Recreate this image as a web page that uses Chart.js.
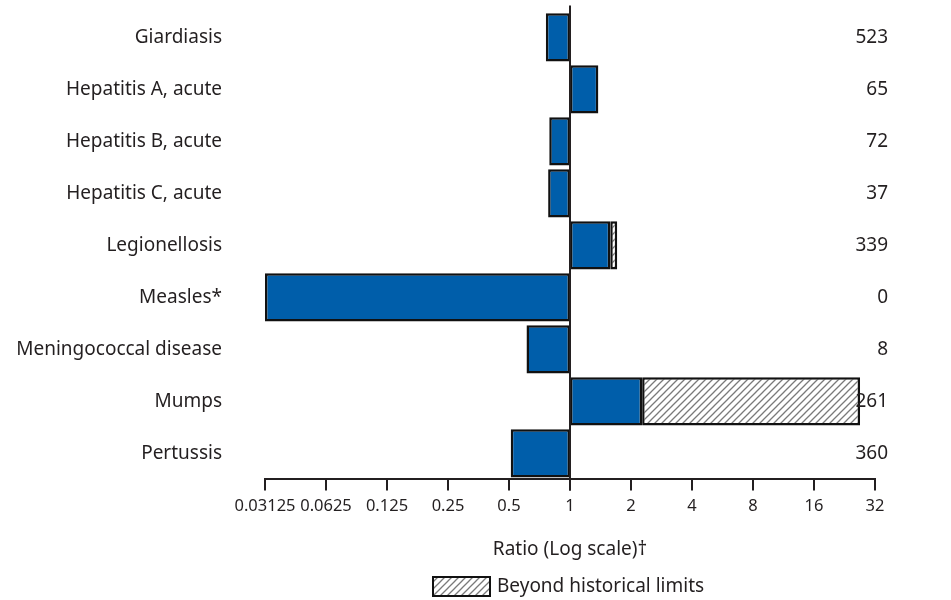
<!DOCTYPE html>
<html>
<head>
<meta charset="utf-8">
<script src="https://cdn.jsdelivr.net/npm/chart.js@4"></script>
<style>
  body { margin: 0; background: #fff; }
  #wrap { width: 951px; height: 600px; }
</style>
</head>
<body>
<div id="wrap"><canvas id="myChart"></canvas></div>
<script>
// diseases, ratio of current to historical, and current 4-week totals
const diseases = ['Giardiasis', 'Hepatitis A, acute', 'Hepatitis B, acute', 'Hepatitis C, acute',
  'Legionellosis', 'Measles*', 'Meningococcal disease', 'Mumps', 'Pertussis'];
const ratios = [0.76, 1.38, 0.79, 0.78, 1.58, 0.03125, 0.61, 2.27, 0.51];
const beyondLimits = [null, null, null, null, 1.71, null, null, 27, null];
const counts = [523, 65, 72, 37, 339, 0, 8, 261, 360];
const tickValues = [0.03125, 0.0625, 0.125, 0.25, 0.5, 1, 2, 4, 8, 16, 32];
const legendText = 'Beyond historical limits';

const textColor = '#231f20';
const fontFamily = "'Noto Sans', sans-serif";

// diagonal hatch fill
function makeHatch() {
    const c = document.createElement('canvas');
    c.width = 7; c.height = 7;
    const g = c.getContext('2d');
    g.fillStyle = '#fff';
    g.fillRect(0, 0, 7, 7);
    g.strokeStyle = '#7a7a7a';
    g.lineWidth = 1.3;
    g.beginPath();
    g.moveTo(-1, 8); g.lineTo(8, -1);
    g.moveTo(-1, 1); g.lineTo(1, -1);
    g.moveTo(6, 8); g.lineTo(8, 6);
    g.stroke();
    return g.createPattern(c, 'repeat');
}
const hatch = makeHatch();

// reference line at ratio 1, totals on the right, legend under the axis
const extras = {
    id: 'extras',
    afterDatasetsDraw(chart) {
        const ctx = chart.ctx;
        const x = chart.scales.x;
        const y = chart.scales.y;
        const px = x.getPixelForValue(1);
        ctx.save();
        ctx.strokeStyle = '#231f20';
        ctx.lineWidth = 2;
        ctx.beginPath();
        ctx.moveTo(px, chart.chartArea.top - 6);
        ctx.lineTo(px, chart.chartArea.bottom + 11);
        ctx.stroke();

        ctx.fillStyle = textColor;
        ctx.font = '19px ' + fontFamily;
        ctx.textAlign = 'right';
        ctx.textBaseline = 'middle';
        counts.forEach((n, i) => {
            ctx.fillText(String(n), 888, y.getPixelForValue(i));
        });

        // legend
        ctx.fillStyle = hatch;
        ctx.fillRect(433, 577, 57, 19);
        ctx.strokeStyle = '#111';
        ctx.lineWidth = 2;
        ctx.strokeRect(433, 577, 57, 19);
        ctx.fillStyle = textColor;
        ctx.textAlign = 'left';
        ctx.fillText(legendText, 497, 587);
        ctx.restore();
    }
};

const data = {
    labels: diseases,
    datasets: [{
        label: 'Ratio',
        data: ratios.map(r => [1, r]),
        backgroundColor: '#005eaa',
        borderColor: '#111',
        borderWidth: 2.5,
        borderSkipped: false,
        grouped: false,
        barPercentage: 0.93,
        categoryPercentage: 1
    },
    {
        label: legendText,
        data: beyondLimits.map((b, i) => b === null ? null : [ratios[i], b]),
        backgroundColor: hatch,
        borderColor: '#111',
        borderWidth: 2.5,
        borderSkipped: false,
        grouped: false,
        barPercentage: 0.93,
        categoryPercentage: 1
    }]
};

const config = {
    type: 'bar',
    data: data,
    options: {
        indexAxis: 'y',
        responsive: true,
        maintainAspectRatio: false,
        animation: false,
        layout: { padding: { left: 0, right: 76, top: 4, bottom: 35 } },
        plugins: {
            tooltip: { enabled: false },
            legend: { display: false }
        },
        scales: {
            x: {
                type: 'logarithmic',
                min: 0.03125,
                max: 32,
                afterBuildTicks: scale => {
                    scale.ticks = tickValues.map(v => ({ value: v }));
                },
                ticks: {
                    color: textColor,
                    font: { family: fontFamily, size: 16.5 },
                    padding: 6,
                    maxRotation: 0,
                    autoSkip: false,
                    callback: v => String(v)
                },
                grid: {
                    drawOnChartArea: false,
                    color: '#231f20',
                    lineWidth: 2,
                    tickLength: 11
                },
                border: { color: '#231f20', width: 2 },
                title: {
                    display: true,
                    text: 'Ratio (Log scale)\u2020',
                    color: textColor,
                    font: { family: fontFamily, size: 19 },
                    padding: { top: 16, bottom: 4 }
                }
            },
            y: {
                afterFit: scale => { scale.width = 265; },
                ticks: {
                    color: textColor,
                    font: { family: fontFamily, size: 19 },
                    padding: 0
                },
                grid: { display: false, drawTicks: true, tickLength: 43 },
                border: { display: false }
            }
        }
    },
    plugins: [extras]
};

const myChart = new Chart(document.getElementById('myChart'), config);
</script>
</body>
</html>
